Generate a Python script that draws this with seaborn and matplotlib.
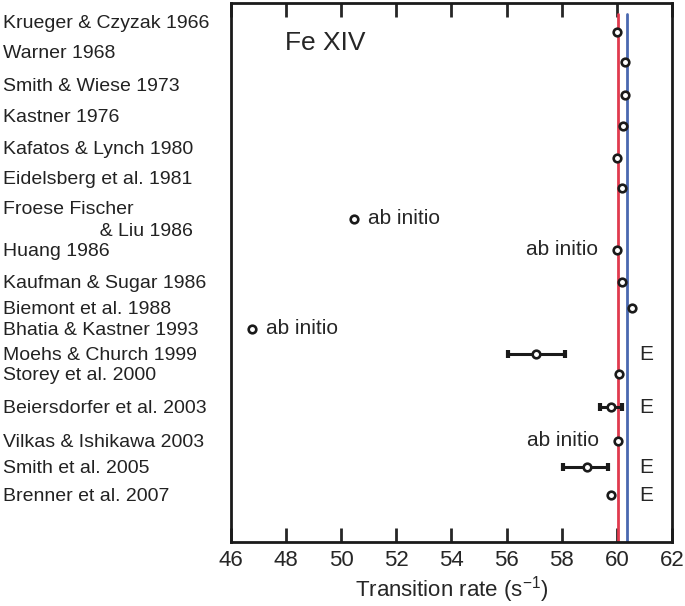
import numpy as np
import pandas as pd
import seaborn as sns
import matplotlib.pyplot as plt

# data
studies = ['Krueger & Czyzak 1966', 'Warner 1968', 'Smith & Wiese 1973', 'Kastner 1976',
           'Kafatos & Lynch 1980', 'Eidelsberg et al. 1981',
           'Froese Fischer\n                  & Liu 1986',
           'Huang 1986', 'Kaufman & Sugar 1986', 'Biemont et al. 1988', 'Bhatia & Kastner 1993',
           'Moehs & Church 1999', 'Storey et al. 2000', 'Beiersdorfer et al. 2003',
           'Vilkas & Ishikawa 2003', 'Smith et al. 2005', 'Brenner et al. 2007']
rates = [60.0, 60.31, 60.3, 60.22, 60.0, 60.17, 50.46, 60.02, 60.17, 60.54, 46.76,
         57.07, 60.08, 59.79, 60.05, 58.9, 59.79]
# row positions (rows are not evenly spaced in the original)
rows = [0, 1.04, 2.18, 3.25, 4.35, 5.39, 6.46, 7.53, 8.64, 9.54, 10.26,
        11.13, 11.82, 12.96, 14.13, 15.03, 16.0]
err_low = [None] * 11 + [56.06, None, 59.39, None, 58.06, None]
err_high = [None] * 11 + [58.12, None, 60.2, None, 59.69, None]
notes = [''] * 6 + ['ab initio R', 'ab initio L', '', '', 'ab initio R',
                    'E', '', 'E', 'ab initio L', 'E', 'E']
ref_red = 60.05
ref_blue = 60.38

df = pd.DataFrame({'study': studies, 'rate': rates, 'row': rows,
                   'lo': err_low, 'hi': err_high, 'note': notes})

sns.set_style('white')
plt.rcParams['font.family'] = ['Liberation Sans', 'DejaVu Sans']
plt.rcParams['mathtext.fontset'] = 'custom'
plt.rcParams['mathtext.rm'] = 'Liberation Sans'

fig = plt.figure(figsize=(6.85, 6.06), dpi=100)
ax = fig.add_axes([0.3372, 0.1056, 0.6438, 0.8894])

ax.axvline(ref_red, ymax=0.98, color='#e03a4e', lw=2, zorder=1)
ax.axvline(ref_blue, ymax=0.98, color='#4a68b0', lw=2, zorder=1)

# error bars
eb = df.dropna(subset=['lo'])
ax.errorbar(eb['rate'], eb['row'],
            xerr=[eb['rate'] - eb['lo'], eb['hi'] - eb['rate']],
            fmt='none', ecolor='#1a1a1a', elinewidth=2.2, capsize=3, capthick=3, zorder=2)

sns.scatterplot(data=df, x='rate', y='row', ax=ax, marker='o', s=30,
                facecolor='white', edgecolor='#1a1a1a', linewidth=1.9, zorder=3)

# annotations
for _, r in df.iterrows():
    if r['note'] == 'ab initio R':
        ax.annotate('ab initio', (r['rate'], r['row']), xytext=(14, 0),
                    textcoords='offset pixels', ha='left', va='center', fontsize=15)
    elif r['note'] == 'ab initio L':
        ax.annotate('ab initio', (r['rate'], r['row']), xytext=(-19, 0),
                    textcoords='offset pixels', ha='right', va='center', fontsize=15)
    elif r['note'] == 'E':
        ax.text(60.82, r['row'], 'E', ha='left', va='center', fontsize=15)

# study names on the left (top labels sit a little above their points)
for _, r in df.iterrows():
    shift = -0.28 if r['row'] < 6 else 0.05
    ax.text(-0.517, r['row'] + shift, r['study'], transform=ax.get_yaxis_transform(),
            ha='left', va='center', fontsize=14, color='#222222', linespacing=1.35)

ax.text(0.123, 0.925, 'Fe XIV', transform=ax.transAxes, ha='left', va='center', fontsize=19)

ax.set_xlim(46, 62)
ax.set_ylim(17.62, -1.0)
ax.set_xticks(range(46, 63, 2))
ax.set_yticks([])
ax.set_xlabel('Transition rate (s$^{\\mathregular{-1}}$)', fontsize=16, labelpad=2)
ax.set_ylabel('')
ax.tick_params(axis='x', direction='in', length=10, width=2, top=True, bottom=True,
               labelsize=16, pad=6)
for s in ax.spines.values():
    s.set_linewidth(2)
    s.set_color('#1a1a1a')

plt.savefig('out.png', dpi=100)
plt.close()
